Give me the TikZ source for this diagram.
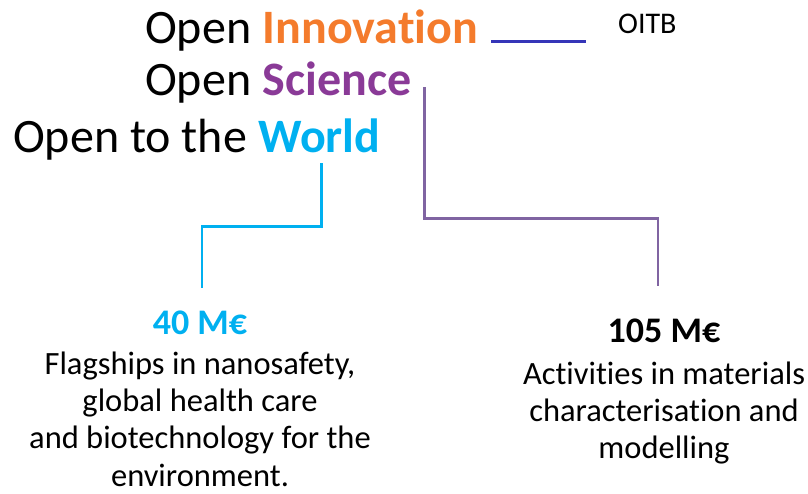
\documentclass[tikz,border=0pt]{standalone}
\usepackage{fontspec}
\setmainfont{Carlito}[Ligatures=NoCommon]
\usetikzlibrary{positioning}
\definecolor{innocol}{HTML}{F47B2C}
\definecolor{scicol}{HTML}{8A3A97}
\definecolor{worldcol}{HTML}{00B0F0}
\definecolor{oitbcol}{HTML}{3535B8}
\definecolor{scilinecol}{HTML}{8064A2}

\begin{document}
\begin{tikzpicture}[x=1pt, y=-1pt, inner sep=0pt,
                    title node/.style={font=\fontsize{48}{52}\selectfont, anchor=base west},
                    word node/.style={title node, font=\fontsize{48}{52}\selectfont\bfseries},
                    sum node/.style={font=\fontsize{36}{40}\selectfont\bfseries, anchor=base},
                    text node/.style={font=\fontsize{32.5}{37.3}\selectfont, align=center},
                    link/.style={line width=2.7pt}]
  \useasboundingbox (0,0) rectangle (808,493);

  \node[title node] (open1) at (145,43) {Open};
  \node[word node, text=innocol] (inno) at ([xshift=11pt]open1.base east) {Innovation};
  \node[title node] (open2) at (145,95) {Open};
  \node[word node, text=scicol] (sci) at ([xshift=11pt]open2.base east) {Science};
  \node[title node] (open3) at (13,152) {Open to the};
  \node[word node, text=worldcol] (world) at ([xshift=11pt]open3.base east) {World};
  \node[font=\fontsize{30}{34}\selectfont, anchor=base west] (oitb) at (618,33) {OITB};

  \node[sum node, text=worldcol] (m40) at (200,334) {40 M€};
  \node[text node, below=17pt of m40] (flag) {Flagships in nanosafety,\\ global health care\\ and biotechnology for the\\ environment.};
  \node[sum node] (m105) at (664,342) {105 M€};
  \node[text node, below=19pt of m105] (act) {Activities in materials\\ characterisation and\\ modelling};

  \coordinate (sciend) at ([xshift=-6pt,yshift=32pt]m105.north);
  \coordinate (worldend) at ([xshift=2pt,yshift=22pt]m40.north);

  \draw[link, oitbcol, shorten <=13pt, shorten >=32pt]
    ([yshift=1.5pt]inno.base east) -- ([yshift=1.5pt]inno.base east -| oitb.west);
  \draw[link, scilinecol]
    ([xshift=13pt,yshift=8pt]sci.base east) |- ([yshift=68pt]sciend) -- (sciend);
  \draw[link, worldcol]
    ([xshift=63pt,yshift=-11pt]world.base west) |- ([yshift=62pt]worldend) -- (worldend);
\end{tikzpicture}
\end{document}
